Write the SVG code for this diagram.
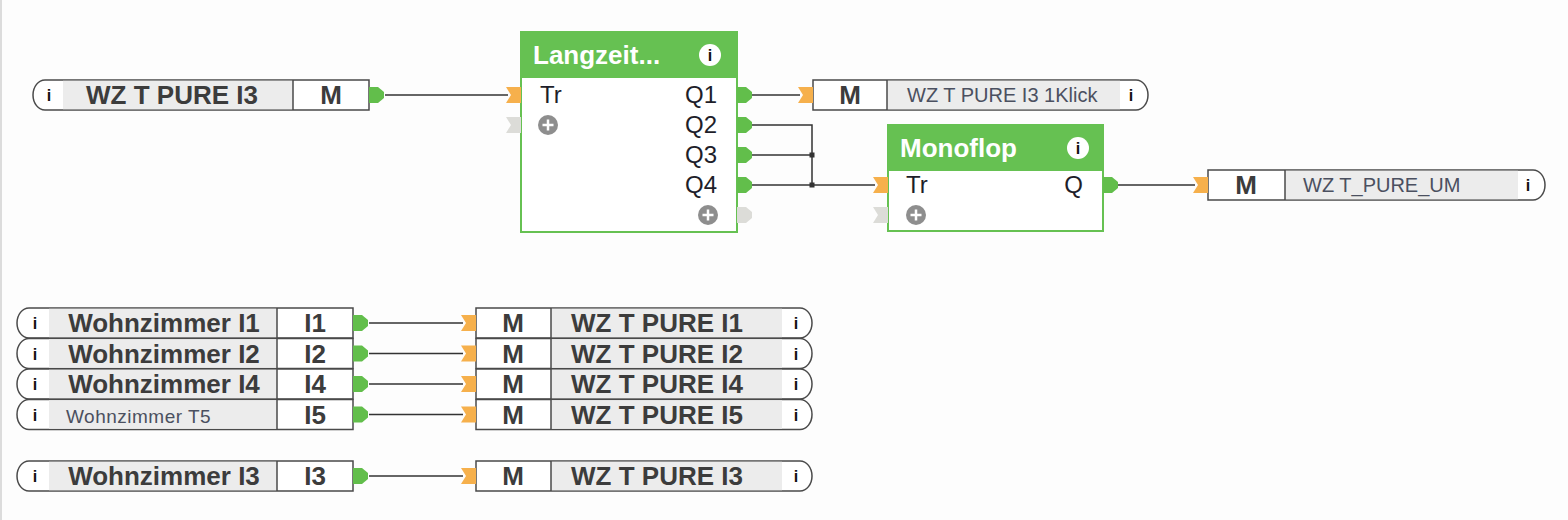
<svg xmlns="http://www.w3.org/2000/svg" xmlns:xlink="http://www.w3.org/1999/xlink" width="1568" height="520" viewBox="0 0 1568 520">
<style>
.bg{fill:#fdfdfd}
.edge{stroke:#dcdcdc;stroke-width:2}
.box{fill:#fff;stroke:#4a4a4a;stroke-width:1.5}
.gray{fill:#ececec}
.div{stroke:#4a4a4a;stroke-width:1.5}
.lbl{font-family:"Liberation Sans",Arial,sans-serif;font-weight:bold;font-size:26px;fill:#3c3c3c;text-anchor:middle}
.sm{font-family:"Liberation Sans",Arial,sans-serif;font-size:20px;fill:#4b5060}
.pin{font-family:"Liberation Sans",Arial,sans-serif;font-size:24px;fill:#1e1e2a}
.pinr{font-family:"Liberation Sans",Arial,sans-serif;font-size:24px;fill:#1e1e2a;text-anchor:end}
.ttl{font-family:"Liberation Sans",Arial,sans-serif;font-weight:bold;font-size:26px;fill:#fff}
.ic{font-family:"Liberation Sans",Arial,sans-serif;font-weight:bold;font-size:16px;fill:#111;text-anchor:middle}
.blk{fill:#fff;stroke:#66c152;stroke-width:2}
.hdr{fill:#66c152}
.wire{stroke:#333;stroke-width:1.5;fill:none}
.pout{fill:#62be4b}
.pin-o{fill:#f6b04c}
.pgray{fill:#dcdcd8}
.plus{fill:#8e8e8e}
.pl{stroke:#fff;stroke-width:2.5}
</style>
<defs>
<path id="po" d="M0,-8 H9 L15,-3 V3 L9,8 H0 Z"/>
<path id="pi" d="M-15,-8 H0 V8 H-15 L-10,0 Z"/>
<g id="plusic"><circle r="10" class="plus"/><path d="M-5.5,0 H5.5 M0,-5.5 V5.5" class="pl"/></g>
</defs>
<rect class="bg" x="0" y="0" width="1568" height="520"/>
<line class="edge" x1="1" y1="0" x2="1" y2="520"/>

<g id="connectors">
<path class="wire" d="M385,95 H508"/>
<path class="wire" d="M752,95 H800"/>
<path class="wire" d="M752,125 H812 V185"/>
<path class="wire" d="M752,155 H812"/>
<path class="wire" d="M752,185 H875"/>
<rect x="809.5" y="152.5" width="5" height="5" fill="#333"/>
<rect x="809.5" y="182.5" width="5" height="5" fill="#333"/>
<path class="wire" d="M1118,185 H1195"/>
<path class="wire" d="M369,323 H463"/>
<path class="wire" d="M369,353.5 H463"/>
<path class="wire" d="M369,384 H463"/>
<path class="wire" d="M369,414.5 H463"/>
<path class="wire" d="M369,476 H463"/>
</g>

<g id="in-wzt-pure-i3" transform="translate(33,80)">
<path class="box" d="M12,0 H336 V30 H12 A12,15 0 0 1 12,0 Z"/>
<rect class="gray" x="30" y="0.75" width="230" height="28.5"/>
<line class="div" x1="260" y1="0" x2="260" y2="30"/>
<text class="ic" x="16" y="21">i</text>
<text class="lbl" x="139" y="24">WZ T PURE I3</text>
<text class="lbl" x="298" y="24">M</text>
<use href="#po" x="336" y="15" class="pout"/>
</g>

<g id="langzeit">
<rect class="blk" x="521" y="32" width="216" height="200"/>
<path class="hdr" d="M521,78 V34 Q521,32 523,32 H735 Q737,32 737,34 V78 Z"/>
<text class="ttl" x="533" y="64">Langzeit...</text>
<circle cx="710" cy="55" r="11" fill="#fff"/>
<text class="ic" x="710" y="61" style="font-size:16px">i</text>
<use href="#pi" x="521" y="95" class="pin-o"/>
<use href="#pi" x="521" y="125" class="pgray"/>
<text class="pin" x="540" y="103">Tr</text>
<use href="#plusic" x="548" y="125"/>
<text class="pinr" x="717" y="103">Q1</text>
<text class="pinr" x="717" y="133">Q2</text>
<text class="pinr" x="717" y="163">Q3</text>
<text class="pinr" x="717" y="193">Q4</text>
<use href="#plusic" x="708" y="215"/>
<use href="#po" x="737" y="95" class="pout"/>
<use href="#po" x="737" y="125" class="pout"/>
<use href="#po" x="737" y="155" class="pout"/>
<use href="#po" x="737" y="185" class="pout"/>
<use href="#po" x="737" y="215" class="pgray"/>
</g>

<g id="out-1klick" transform="translate(813,80)">
<path class="box" d="M0,0 H323 A12,15 0 0 1 323,30 H0 Z"/>
<rect class="gray" x="74" y="0.75" width="233" height="28.5"/>
<line class="div" x1="74" y1="0" x2="74" y2="30"/>
<text class="lbl" x="37" y="24">M</text>
<text class="sm" x="94" y="22">WZ T PURE I3 1Klick</text>
<text class="ic" x="318" y="21">i</text>
<use href="#pi" x="0" y="15" class="pin-o"/>
</g>

<g id="monoflop">
<rect class="blk" x="888" y="125" width="215" height="106"/>
<path class="hdr" d="M888,171 V127 Q888,125 890,125 H1101 Q1103,125 1103,127 V171 Z"/>
<text class="ttl" x="900" y="157">Monoflop</text>
<circle cx="1078" cy="148" r="11" fill="#fff"/>
<text class="ic" x="1078" y="154" style="font-size:16px">i</text>
<use href="#pi" x="888" y="185" class="pin-o"/>
<use href="#pi" x="888" y="215" class="pgray"/>
<text class="pin" x="906" y="193">Tr</text>
<use href="#plusic" x="916" y="215"/>
<text class="pinr" x="1083" y="193">Q</text>
<use href="#po" x="1103" y="185" class="pout"/>
</g>

<g id="out-um" transform="translate(1208,170)">
<path class="box" d="M0,0 H325 A12,15 0 0 1 325,30 H0 Z"/>
<rect class="gray" x="77" y="0.75" width="233" height="28.5"/>
<line class="div" x1="77" y1="0" x2="77" y2="30"/>
<text class="lbl" x="38" y="24">M</text>
<text class="sm" x="95" y="22">WZ T_PURE_UM</text>
<text class="ic" x="320" y="21">i</text>
<use href="#pi" x="0" y="15" class="pin-o"/>
</g>

<g id="in-wohnzimmer-i1" transform="translate(17,308)">
<path class="box" d="M12,0 H336 V30 H12 A12,15 0 0 1 12,0 Z"/>
<rect class="gray" x="32" y="0.75" width="228" height="28.5"/>
<line class="div" x1="260" y1="0" x2="260" y2="30"/>
<text class="ic" x="18" y="21">i</text>
<text class="lbl" x="147" y="24">Wohnzimmer I1</text>
<text class="lbl" x="298" y="24">I1</text>
<use href="#po" x="336" y="15" class="pout"/>
</g>
<g id="in-wohnzimmer-i2" transform="translate(17,338.5)">
<path class="box" d="M12,0 H336 V30 H12 A12,15 0 0 1 12,0 Z"/>
<rect class="gray" x="32" y="0.75" width="228" height="28.5"/>
<line class="div" x1="260" y1="0" x2="260" y2="30"/>
<text class="ic" x="18" y="21">i</text>
<text class="lbl" x="147" y="24">Wohnzimmer I2</text>
<text class="lbl" x="298" y="24">I2</text>
<use href="#po" x="336" y="15" class="pout"/>
</g>
<g id="in-wohnzimmer-i4" transform="translate(17,369)">
<path class="box" d="M12,0 H336 V30 H12 A12,15 0 0 1 12,0 Z"/>
<rect class="gray" x="32" y="0.75" width="228" height="28.5"/>
<line class="div" x1="260" y1="0" x2="260" y2="30"/>
<text class="ic" x="18" y="21">i</text>
<text class="lbl" x="147" y="24">Wohnzimmer I4</text>
<text class="lbl" x="298" y="24">I4</text>
<use href="#po" x="336" y="15" class="pout"/>
</g>
<g id="in-wohnzimmer-t5" transform="translate(17,399.5)">
<path class="box" d="M12,0 H336 V30 H12 A12,15 0 0 1 12,0 Z"/>
<rect class="gray" x="32" y="0.75" width="228" height="28.5"/>
<line class="div" x1="260" y1="0" x2="260" y2="30"/>
<text class="ic" x="18" y="21">i</text>
<text class="sm" x="49" y="23" style="font-size:19px;letter-spacing:0.5px">Wohnzimmer T5</text>
<text class="lbl" x="298" y="24">I5</text>
<use href="#po" x="336" y="15" class="pout"/>
</g>
<g id="in-wohnzimmer-i3" transform="translate(17,461)">
<path class="box" d="M12,0 H336 V30 H12 A12,15 0 0 1 12,0 Z"/>
<rect class="gray" x="32" y="0.75" width="228" height="28.5"/>
<line class="div" x1="260" y1="0" x2="260" y2="30"/>
<text class="ic" x="18" y="21">i</text>
<text class="lbl" x="147" y="24">Wohnzimmer I3</text>
<text class="lbl" x="298" y="24">I3</text>
<use href="#po" x="336" y="15" class="pout"/>
</g>

<g id="out-wzt-pure-i1" transform="translate(476,308)">
<path class="box" d="M0,0 H324 A12,15 0 0 1 324,30 H0 Z"/>
<rect class="gray" x="75" y="0.75" width="231" height="28.5"/>
<line class="div" x1="75" y1="0" x2="75" y2="30"/>
<text class="lbl" x="37" y="24">M</text>
<text class="lbl" x="181" y="24">WZ T PURE I1</text>
<text class="ic" x="320" y="21">i</text>
<use href="#pi" x="0" y="15" class="pin-o"/>
</g>
<g id="out-wzt-pure-i2" transform="translate(476,338.5)">
<path class="box" d="M0,0 H324 A12,15 0 0 1 324,30 H0 Z"/>
<rect class="gray" x="75" y="0.75" width="231" height="28.5"/>
<line class="div" x1="75" y1="0" x2="75" y2="30"/>
<text class="lbl" x="37" y="24">M</text>
<text class="lbl" x="181" y="24">WZ T PURE I2</text>
<text class="ic" x="320" y="21">i</text>
<use href="#pi" x="0" y="15" class="pin-o"/>
</g>
<g id="out-wzt-pure-i4" transform="translate(476,369)">
<path class="box" d="M0,0 H324 A12,15 0 0 1 324,30 H0 Z"/>
<rect class="gray" x="75" y="0.75" width="231" height="28.5"/>
<line class="div" x1="75" y1="0" x2="75" y2="30"/>
<text class="lbl" x="37" y="24">M</text>
<text class="lbl" x="181" y="24">WZ T PURE I4</text>
<text class="ic" x="320" y="21">i</text>
<use href="#pi" x="0" y="15" class="pin-o"/>
</g>
<g id="out-wzt-pure-i5" transform="translate(476,399.5)">
<path class="box" d="M0,0 H324 A12,15 0 0 1 324,30 H0 Z"/>
<rect class="gray" x="75" y="0.75" width="231" height="28.5"/>
<line class="div" x1="75" y1="0" x2="75" y2="30"/>
<text class="lbl" x="37" y="24">M</text>
<text class="lbl" x="181" y="24">WZ T PURE I5</text>
<text class="ic" x="320" y="21">i</text>
<use href="#pi" x="0" y="15" class="pin-o"/>
</g>
<g id="out-wzt-pure-i3" transform="translate(476,461)">
<path class="box" d="M0,0 H324 A12,15 0 0 1 324,30 H0 Z"/>
<rect class="gray" x="75" y="0.75" width="231" height="28.5"/>
<line class="div" x1="75" y1="0" x2="75" y2="30"/>
<text class="lbl" x="37" y="24">M</text>
<text class="lbl" x="181" y="24">WZ T PURE I3</text>
<text class="ic" x="320" y="21">i</text>
<use href="#pi" x="0" y="15" class="pin-o"/>
</g>
</svg>
